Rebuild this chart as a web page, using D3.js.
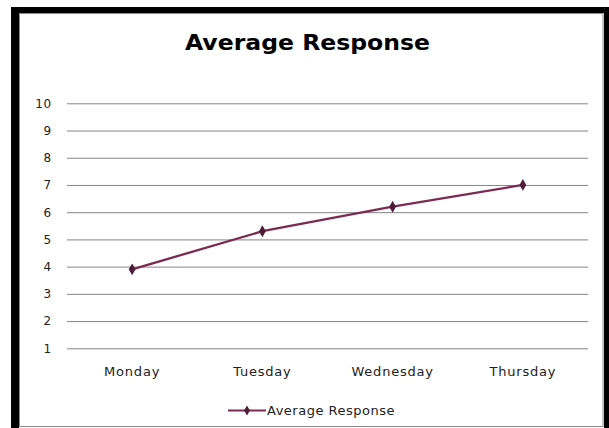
<!DOCTYPE html>
<html><head><meta charset="utf-8">
<script src="https://cdn.jsdelivr.net/npm/d3@7"></script>
<style>html,body{margin:0;padding:0;background:#fff;}svg{display:block;}</style>
</head><body>
<script>
const categories = ["Monday", "Tuesday", "Wednesday", "Thursday"];
const values = [3.9, 5.3, 6.2, 7.0];
const yTicks = [1, 2, 3, 4, 5, 6, 7, 8, 9, 10];
const seriesName = "Average Response";
const title = "Average Response";

const W = 609, H = 428;
const svg = d3.select("body").append("svg").attr("width", W).attr("height", H);
svg.append("rect").attr("width", W).attr("height", H).attr("fill", "#fff");

// frame
svg.append("rect").attr("x", 11).attr("y", 7).attr("width", 8).attr("height", H - 7).attr("fill", "#000");
svg.append("rect").attr("x", 11).attr("y", 7).attr("width", W - 11).attr("height", 6).attr("fill", "#000");
svg.append("rect").attr("x", 604).attr("y", 7).attr("width", 5).attr("height", H - 7).attr("fill", "#000");
svg.append("rect").attr("x", 19.5).attr("y", 13.5).attr("width", 583.5).attr("height", 413).attr("fill", "none").attr("stroke", "#8a8a8a").attr("stroke-width", 1);

const x = d3.scaleBand().domain(categories).range([67, 588]);
const y = d3.scaleLinear().domain([1, 10]).range([348.3, 103.3]);

// title
svg.append("text").attr("x", 185).attr("y", 50)
  .attr("font-family", "DejaVu Sans").attr("font-weight", "bold").attr("font-size", 21)
  .attr("textLength", 245).attr("lengthAdjust", "spacingAndGlyphs")
  .attr("fill", "#000").text(title);

// gridlines + y labels
const yAxis = d3.axisLeft(y).tickValues(yTicks).tickSize(-(588 - 67)).tickPadding(15).tickFormat(d3.format("d"));
const gy = svg.append("g").attr("transform", "translate(67,0)").call(yAxis);
gy.select(".domain").remove();
gy.selectAll(".tick line").attr("stroke", "#858585").attr("stroke-width", 1);
gy.selectAll(".tick text").attr("font-family", "DejaVu Sans").attr("font-size", 12).attr("letter-spacing", 0.8).attr("fill", "#222");

// x labels
const xAxis = d3.axisBottom(x).tickSize(0).tickPadding(18);
const gx = svg.append("g").attr("transform", "translate(0,348.3)").call(xAxis);
gx.select(".domain").remove();
gx.selectAll(".tick text").attr("font-family", "DejaVu Sans").attr("font-size", 13).attr("letter-spacing", 0.8).attr("fill", "#222");

// line
const lineColor = "#7c2a52", markColor = "#4e1c36";
const line = d3.line().x((d, i) => x(categories[i]) + x.bandwidth() / 2).y(d => y(d));
svg.append("path").datum(values).attr("d", line).attr("fill", "none").attr("stroke", lineColor).attr("stroke-width", 2.3);
const sym = d3.symbol().type(d3.symbolDiamond).size(40);
svg.selectAll(".pt").data(values).enter().append("path").attr("class", "pt")
  .attr("transform", (d, i) => `translate(${x(categories[i]) + x.bandwidth() / 2},${y(d)})`)
  .attr("d", sym).attr("fill", markColor);

// legend
const lg = svg.append("g").attr("transform", "translate(228,410.5)");
lg.append("line").attr("x1", 0).attr("x2", 38).attr("stroke", lineColor).attr("stroke-width", 2);
lg.append("path").attr("transform", "translate(19,0)").attr("d", d3.symbol().type(d3.symbolDiamond).size(30)).attr("fill", markColor);
lg.append("text").attr("x", 39).attr("y", 4.5).attr("font-family", "DejaVu Sans").attr("font-size", 13)
  .attr("letter-spacing", 0.5).attr("fill", "#222").text(seriesName);
</script>
</body></html>
